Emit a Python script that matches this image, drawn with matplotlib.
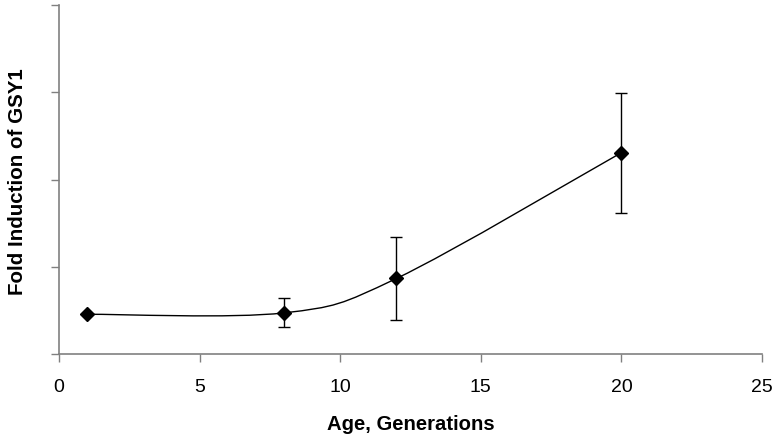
import numpy as np
import matplotlib
matplotlib.use("Agg")
import matplotlib.pyplot as plt
from matplotlib.path import Path
from matplotlib.patches import PathPatch

plt.rcParams['font.family'] = ['Liberation Sans', 'DejaVu Sans']

# Data
age = [1, 8, 12, 20]
fold = [0.46, 0.476, 0.87, 2.31]
err = [0.0, 0.167, 0.48, 0.685]
x_ticks = [0, 5, 10, 15, 20, 25]
y_ticks = [0, 1, 2, 3, 4]


def excel_smooth_path(xs, ys):
    pts = np.column_stack([xs, ys]).astype(float)
    n = len(pts)
    verts = [pts[0]]
    codes = [Path.MOVETO]
    for i in range(n - 1):
        p0 = pts[i - 1] if i > 0 else pts[i]
        p1 = pts[i]
        p2 = pts[i + 1]
        p3 = pts[i + 2] if i + 2 < n else pts[i + 1]
        c1 = p1 + (p2 - p0) / 6.0
        c2 = p2 - (p3 - p1) / 6.0
        verts += [c1, c2, p2]
        codes += [Path.CURVE4] * 3
    return Path(verts, codes)


fig = plt.figure(figsize=(7.76, 4.36), dpi=100)
ax = fig.add_axes([0.076, 0.187, 0.906, 0.8015])

ax.add_patch(PathPatch(excel_smooth_path(age, fold), facecolor='none',
                       edgecolor='black', lw=1.0, zorder=2))
ax.errorbar(age, fold, yerr=err, fmt='none', ecolor='black', elinewidth=1.0,
            capsize=4, capthick=1.0, zorder=3)
ax.plot(age, fold, linestyle='none', marker='D', markersize=7,
        color='black', zorder=4)

ax.set_xlim(0, 25)
ax.set_ylim(0, 4)
ax.set_xticks(x_ticks)
ax.set_yticks(y_ticks)
ax.set_yticklabels([])
ax.tick_params(axis='x', direction='out', length=6, width=1, color='#808080',
               labelsize=14, pad=12)
ax.tick_params(axis='y', direction='out', length=6, width=1, color='#808080')

for s in ['top', 'right']:
    ax.spines[s].set_visible(False)
for s in ['left', 'bottom']:
    ax.spines[s].set_color('#808080')
    ax.spines[s].set_linewidth(1.2)

ax.set_xlabel('Age, Generations', fontsize=14.6, fontweight='bold', labelpad=13)
ax.set_ylabel('Fold Induction of GSY1', fontsize=14.8, fontweight='bold')
ax.yaxis.set_label_coords(-0.045, 0.495)

fig.savefig('out.png', dpi=100)
